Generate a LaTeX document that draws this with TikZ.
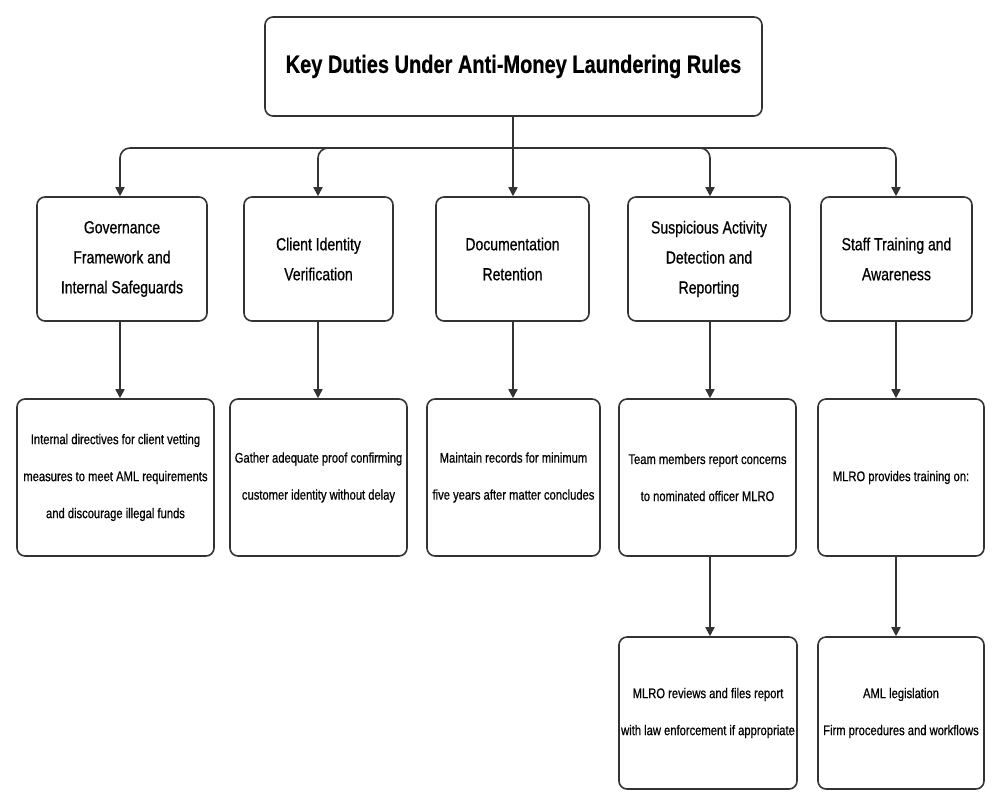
\documentclass[tikz,border=0pt]{standalone}
\usepackage{fontspec}
\setmainfont[FakeStretch=0.8,FakeBold=0.6]{Liberation Sans}
\usetikzlibrary{arrows.meta}
\begin{document}
\begin{tikzpicture}[x=1pt,y=-1pt,
  box/.style={draw=black!80,line width=1.6pt,rounded corners=8pt,fill=white,align=center,inner sep=0pt},
  t1/.style={font=\fontsize{17.5}{30}\selectfont},
  t2/.style={font=\fontsize{14}{37}\selectfont},
  arr/.style={draw=black!80,line width=1.6pt,-{Triangle[length=9pt,width=9pt]}}]
\useasboundingbox (0,0) rectangle (1004,807);
\node[box,minimum width=497pt,minimum height=99pt,font=\bfseries\fontsize{25}{30}\selectfont] (top) at (513.5,66.5) {Key Duties Under Anti-Money Laundering Rules};
% row 1
\node[box,t1,minimum width=170pt,minimum height=124pt] (a1) at (122,259) {Governance\\Framework and\\Internal Safeguards};
\node[box,t1,minimum width=149pt,minimum height=124pt] (b1) at (318.5,259) {Client Identity\\Verification};
\node[box,t1,minimum width=153pt,minimum height=124pt] (c1) at (512.5,259) {Documentation\\Retention};
\node[box,t1,minimum width=162pt,minimum height=124pt] (d1) at (709,259) {Suspicious Activity\\Detection and\\Reporting};
\node[box,t1,minimum width=151pt,minimum height=124pt] (e1) at (896.5,259) {Staff Training and\\Awareness};
% row 2
\node[box,t2,minimum width=197pt,minimum height=157pt] (a2) at (115.5,477.5) {Internal directives for client vetting\\measures to meet AML requirements\\and discourage illegal funds};
\node[box,t2,minimum width=177pt,minimum height=157pt] (b2) at (318.5,477.5) {Gather adequate proof confirming\\customer identity without delay};
\node[box,t2,minimum width=173pt,minimum height=157pt] (c2) at (513.5,477.5) {Maintain records for minimum\\five years after matter concludes};
\node[box,t2,minimum width=177pt,minimum height=157pt] (d2) at (707.5,477.5) {Team members report concerns\\to nominated officer MLRO};
\node[box,t2,minimum width=166pt,minimum height=157pt] (e2) at (901,477.5) {MLRO provides training on:};
% row 3
\node[box,t2,minimum width=178pt,minimum height=152pt] (d3) at (708,713) {MLRO reviews and files report\\with law enforcement if appropriate};
\node[box,t2,minimum width=166pt,minimum height=152pt] (e3) at (901,713) {AML legislation\\Firm procedures and workflows};
% connectors
\coordinate (j) at (513,148);
\draw[draw=black!80,line width=1.6pt] (top.south -| j) -- (j);
\foreach \n/\x in {a1/120,b1/318,d1/710,e1/896}
  \draw[arr,rounded corners=10pt] (j) -- (\x,148) -- (\n.north -| \x,0);
\draw[arr] (j) -- (c1.north -| j);
\draw[arr] (a1.south -| 120,0) -- (a2.north -| 120,0);
\draw[arr] (b1.south -| 318,0) -- (b2.north -| 318,0);
\draw[arr] (c1.south -| 513,0) -- (c2.north -| 513,0);
\draw[arr] (d1.south -| 710,0) -- (d2.north -| 710,0);
\draw[arr] (e1.south -| 896,0) -- (e2.north -| 896,0);
\draw[arr] (d2.south -| 710,0) -- (d3.north -| 710,0);
\draw[arr] (e2.south -| 896,0) -- (e3.north -| 896,0);
\end{tikzpicture}
\end{document}
